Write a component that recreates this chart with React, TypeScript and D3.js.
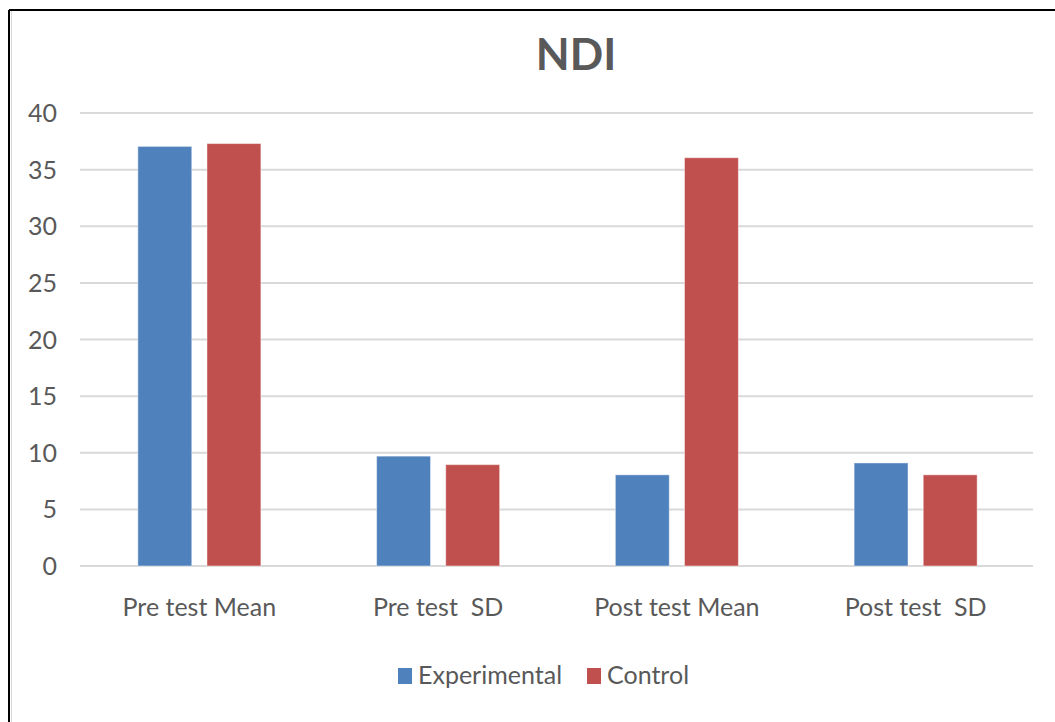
import React from "react";
import * as d3 from "d3";

const categories = ["Pre test Mean", "Pre test  SD", "Post test Mean", "Post test  SD"];
const seriesNames = ["Experimental", "Control"];
const experimental = [37.05, 9.7, 8.05, 9.1];
const control = [37.3, 8.95, 36.05, 8.05];
const yTicks = [0, 5, 10, 15, 20, 25, 30, 35, 40];
const colors = ["#4F81BD", "#C0504D"];

const W = 1055;
const H = 722;
const FONT = "Lato, sans-serif";

export default function App() {
  const x = d3.scaleBand<string>().domain(categories).range([80, 1035]).padding(0);
  const x1 = d3
    .scaleBand<string>()
    .domain(seriesNames)
    .range([0, x.bandwidth()])
    .paddingInner(0.22)
    .paddingOuter(0.837);
  const y = d3.scaleLinear().domain([0, 40]).range([566, 113]);
  const data = [experimental, control];

  return (
    <div style={{ position: "fixed", left: 0, top: 0 }}>
      <svg width={W} height={H} style={{ display: "block", background: "#fff" }}>
        <rect x={0} y={0} width={W} height={H} fill="#fff" />
        <line x1={9} y1={10} x2={W} y2={10} stroke="#000" strokeWidth={2} />
        <line x1={9} y1={10} x2={9} y2={H} stroke="#000" strokeWidth={2} />
        <line x1={11.5} y1={11} x2={11.5} y2={H} stroke="#d9d9d9" strokeWidth={1} />
        <text
          x={576}
          y={70}
          textAnchor="middle"
          fontFamily={FONT}
          fontWeight="bold"
          fontSize={44}
          fill="#595959"
        >
          NDI
        </text>
        {yTicks.map((t) => (
          <g key={t}>
            <line x1={80} x2={1033} y1={y(t)} y2={y(t)} stroke="#d9d9d9" strokeWidth={2} />
            <text
              x={57}
              y={y(t)}
              dy="0.36em"
              textAnchor="end"
              fontFamily={FONT}
              fontSize={25}
              fill="#595959"
            >
              {t}
            </text>
          </g>
        ))}
        {categories.map((c, i) => (
          <g key={c}>
            {seriesNames.map((s, j) => {
              const v = data[j][i];
              return (
                <rect
                  key={s}
                  x={(x(c) as number) + (x1(s) as number)}
                  y={y(v)}
                  width={x1.bandwidth()}
                  height={y(0) - y(v)}
                  fill={colors[j]}
                  stroke="rgba(255,255,255,0.45)"
                  strokeWidth={1}
                />
              );
            })}
            <text
              x={(x(c) as number) + x.bandwidth() / 2}
              y={616}
              textAnchor="middle"
              fontFamily={FONT}
              fontSize={25}
              fill="#595959"
              style={{ whiteSpace: "pre" }}
            >
              {c}
            </text>
          </g>
        ))}
        {seriesNames.map((s, j) => {
          const lx = j === 0 ? 398 : 587;
          return (
            <g key={s}>
              <rect x={lx} y={668} width={14} height={16} fill={colors[j]} />
              <text x={lx + 20} y={684} fontFamily={FONT} fontSize={25} fill="#595959">
                {s}
              </text>
            </g>
          );
        })}
      </svg>
    </div>
  );
}
